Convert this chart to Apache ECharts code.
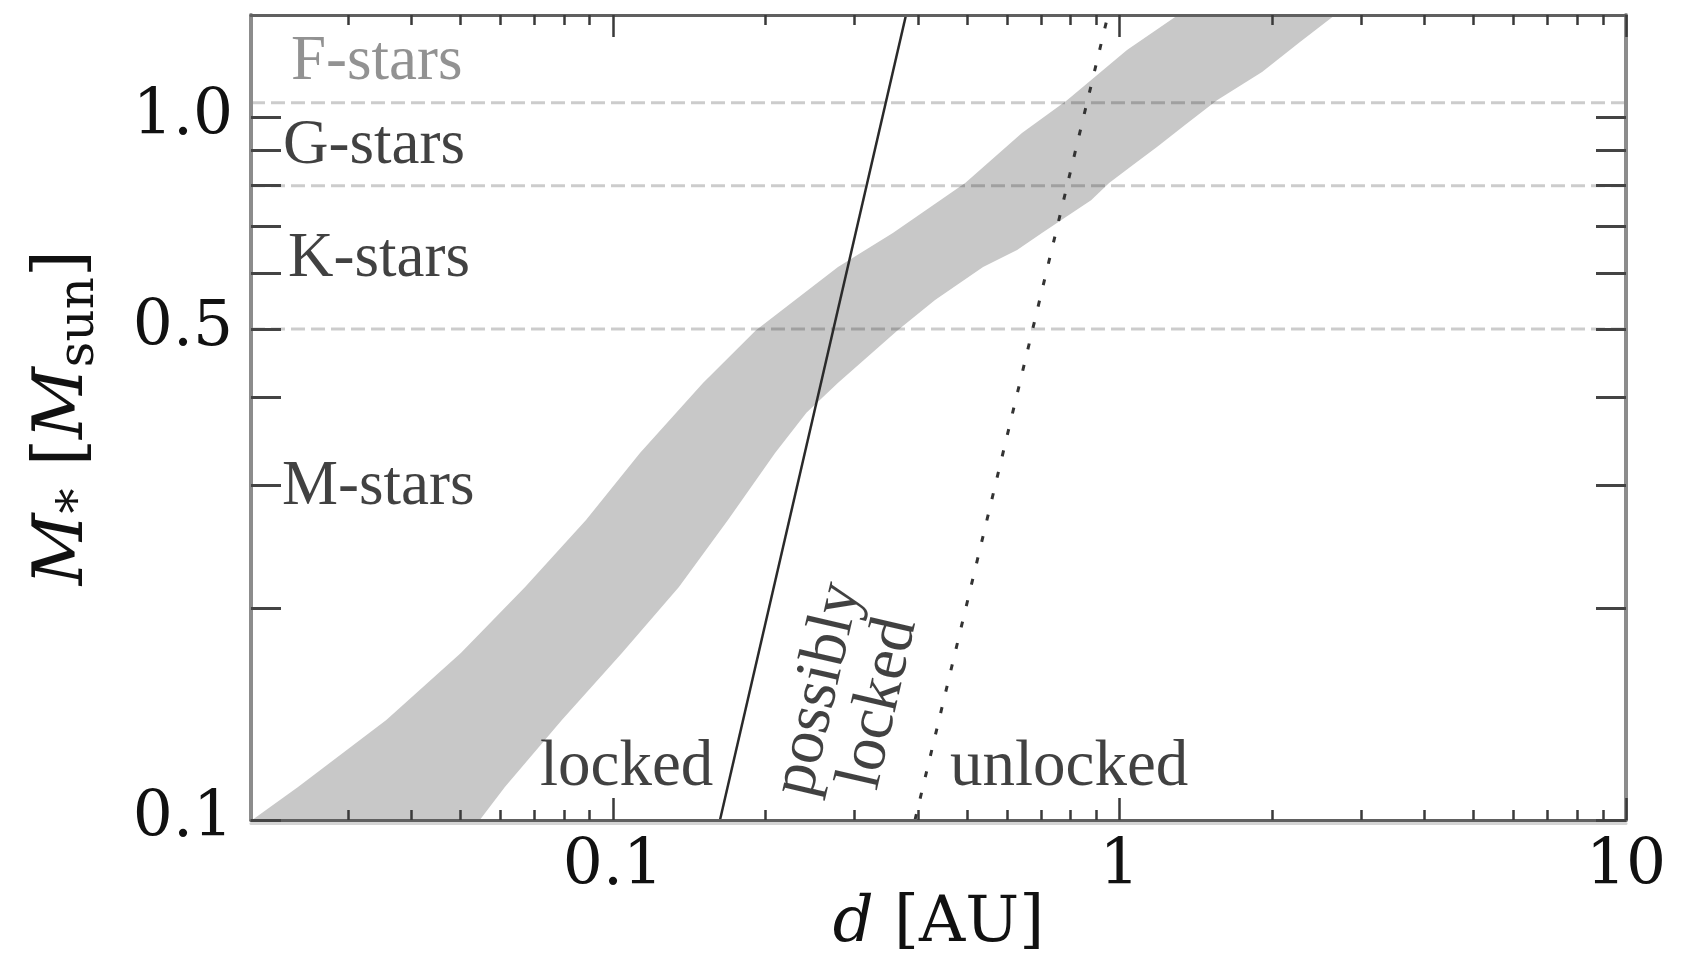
<!DOCTYPE html>
<html>
<head>
<meta charset="utf-8">
<script src="https://cdn.jsdelivr.net/npm/echarts@6/dist/echarts.min.js"></script>
<style>
html,body{margin:0;padding:0;background:#fff;}
#chart{width:1692px;height:959px;}
</style>
</head>
<body>
<div id="chart"></div>
<script>
// ---- axis ranges and ticks ----
const xRange = [0.0193, 10];
const yRange = [0.1, 1.4];
const xMajorTicks = [0.1, 1, 10];
const xTickLabels = ['0.1', '1', '10'];
const xMinorTicks = [0.03, 0.04, 0.05, 0.06, 0.07, 0.08, 0.09,
                     0.2, 0.3, 0.4, 0.5, 0.6, 0.7, 0.8, 0.9,
                     2, 3, 4, 5, 6, 7, 8, 9];
const yTicks = [0.1, 0.2, 0.3, 0.4, 0.5, 0.6, 0.7, 0.8, 0.9, 1.0];
const yLabelValues = [0.1, 0.5, 1.0];
const yTickLabels = ['0.1', '0.5', '1.0'];

// ---- spectral class boundaries (dashed) ----
const classBoundaries = [1.05, 0.8, 0.5];

// ---- grey band: upper-left edge (bottom -> top) ----
const bandEdge1X = [0.0194, 0.0239, 0.0357, 0.0501, 0.0671, 0.0885, 0.1131, 0.1506, 0.1916, 0.2782, 0.357, 0.496, 0.642, 0.788, 1.035, 1.305];
const bandEdge1Y = [0.1, 0.1114, 0.1388, 0.1729, 0.2147, 0.2674, 0.333, 0.4189, 0.498, 0.613, 0.685, 0.807, 0.951, 1.059, 1.248, 1.40];
// ---- grey band: lower-right edge (top -> bottom) ----
const bandEdge2X = [2.664, 2.272, 1.912, 1.558, 1.347, 1.186, 1.063, 0.954, 0.879, 0.784, 0.703, 0.628, 0.538, 0.4325, 0.365, 0.278, 0.241, 0.209, 0.1687, 0.135, 0.1042, 0.0793, 0.0612, 0.0546];
const bandEdge2Y = [1.40, 1.281, 1.161, 1.059, 0.976, 0.908, 0.856, 0.807, 0.763, 0.722, 0.685, 0.648, 0.613, 0.550, 0.498, 0.419, 0.380, 0.333, 0.2674, 0.2147, 0.1729, 0.1388, 0.1114, 0.1];

// ---- locking limits ----
const lockedLineX = [0.1627, 0.379];
const lockedLineY = [0.1, 1.4];
const unlockedLineX = [0.3948, 0.9493];
const unlockedLineY = [0.1, 1.4];

// ---- text labels ----
const starLabels = ['F-stars', 'G-stars', 'K-stars', 'M-stars'];
const starLabelX = [0.02315, 0.02232, 0.02284, 0.02222];
const starLabelY = [1.20, 0.911, 0.629, 0.297];
const regionLabels = ['locked', 'possibly\nlocked', 'unlocked'];
const regionLabelX = [0.0718, 0.2925, 0.463];
const regionLabelY = [0.1186, 0.150, 0.1186];

const SERIF = 'Liberation Serif';
const TICKFONT = 'DejaVu Serif';

function nearestLabel(v, vals, labels) {
  let best = 0, bd = Infinity;
  vals.forEach((t, i) => { const d = Math.abs(Math.log10(v) - Math.log10(t)); if (d < bd) { bd = d; best = i; } });
  return labels[best];
}

const chart = echarts.init(document.getElementById('chart'), null, {renderer: 'canvas'});

function xAxisDef(position, ticks, len, showLabel, showLine) {
  return {
    type: 'log', logBase: 10, position: position, min: xRange[0], max: xRange[1], z: 10,
    axisLine: {show: showLine, onZero: false, lineStyle: {color: '#606060', width: 3}},
    axisTick: {show: ticks.length > 0, inside: true, length: len, customValues: ticks, lineStyle: {color: '#3a3a3a', width: 2.5}},
    axisLabel: showLabel ? {
      show: true, customValues: xMajorTicks, margin: 16, color: '#111', fontFamily: TICKFONT, fontSize: 63,
      formatter: v => nearestLabel(v, xMajorTicks, xTickLabels)
    } : {show: false},
    splitLine: {show: false}, minorTick: {show: false}, minorSplitLine: {show: false}
  };
}

function yAxisDef(position, showLabel) {
  return {
    type: 'log', logBase: 10, position: position, min: yRange[0], max: yRange[1], z: 10,
    axisLine: {show: true, onZero: false, lineStyle: {color: '#8c8c8c', width: 4}},
    axisTick: {show: true, inside: true, length: 30, customValues: yTicks, lineStyle: {color: '#444', width: 3}},
    axisLabel: showLabel ? {
      show: true, customValues: yLabelValues, margin: 18, color: '#111', fontFamily: TICKFONT, fontSize: 63,
      formatter: v => nearestLabel(v, yLabelValues, yTickLabels)
    } : {show: false},
    splitLine: {show: false},
    name: showLabel ? '{i|M}{s|*} [{i|M}{s|sun}]' : '',
    nameLocation: 'middle', nameRotate: 90, nameGap: 146,
    nameTextStyle: {
      fontFamily: TICKFONT, fontSize: 70, color: '#111',
      rich: {
        i: {fontFamily: TICKFONT, fontSize: 70, fontStyle: 'italic', color: '#111'},
        s: {fontFamily: TICKFONT, fontSize: 50, color: '#111', padding: [32, 0, 0, 0]}
      }
    }
  };
}

const xAxes = [
  xAxisDef('bottom', xMajorTicks, 22, true, true),
  xAxisDef('bottom', xMinorTicks, 10, false, false),
  xAxisDef('top', xMajorTicks, 22, false, true),
  xAxisDef('top', xMinorTicks, 10, false, false)
];
// light halo under the bottom frame line
const halo = xAxisDef('bottom', [], 0, false, true);
halo.offset = 3;
halo.z = 9;
halo.axisLine.lineStyle = {color: '#d4d4d4', width: 3};
xAxes.push(halo);

xAxes[0].name = '{i|d} [AU]';
xAxes[0].nameLocation = 'middle';
xAxes[0].nameGap = 72;
xAxes[0].nameMoveOverlap = false;
xAxes[0].nameTextStyle = {
  fontFamily: TICKFONT, fontSize: 64, color: '#111',
  rich: {i: {fontFamily: TICKFONT, fontSize: 64, fontStyle: 'italic', color: '#111'}}
};

const series = [];

// grey band polygon
series.push({
  type: 'custom', xAxisIndex: 0, yAxisIndex: 0, clip: true, silent: true, z: 1,
  data: [[bandEdge1X[0], bandEdge1Y[0]]],
  renderItem: function (params, api) {
    const pts = [];
    for (let i = 0; i < bandEdge1X.length; i++) pts.push(api.coord([bandEdge1X[i], bandEdge1Y[i]]));
    for (let i = 0; i < bandEdge2X.length; i++) pts.push(api.coord([bandEdge2X[i], bandEdge2Y[i]]));
    return {type: 'polygon', shape: {points: pts}, style: {fill: '#c8c8c8', stroke: null}};
  }
});

// dashed class boundaries
classBoundaries.forEach(b => {
  series.push({
    type: 'line', xAxisIndex: 0, yAxisIndex: 0, symbol: 'none', silent: true, z: 3,
    data: [[xRange[0], b], [xRange[1], b]],
    lineStyle: {color: 'rgba(0,0,0,0.2)', width: 3, type: [14, 6]}
  });
});

// locked limit (solid)
series.push({
  type: 'line', xAxisIndex: 0, yAxisIndex: 0, symbol: 'none', silent: true, z: 4,
  data: lockedLineX.map((x, i) => [x, lockedLineY[i]]),
  lineStyle: {color: '#2a2a2a', width: 2.5, type: 'solid'}
});
// unlocked limit (dotted)
series.push({
  type: 'line', xAxisIndex: 0, yAxisIndex: 0, symbol: 'none', silent: true, z: 4,
  data: unlockedLineX.map((x, i) => [x, unlockedLineY[i]]),
  lineStyle: {color: '#333', width: 3, type: [6, 16]}
});

// star class labels
series.push({
  type: 'scatter', xAxisIndex: 0, yAxisIndex: 0, symbolSize: 0, silent: true, z: 5,
  data: starLabels.map((n, i) => {
    const d = {name: n, value: [starLabelX[i], starLabelY[i]]};
    if (i === 0) d.label = {color: '#777'};
    return d;
  }),
  label: {
    show: true, position: 'right', distance: 0, formatter: '{b}',
    fontFamily: SERIF, fontSize: 63, color: '#111'
  }
});

// region labels
series.push({
  type: 'scatter', xAxisIndex: 0, yAxisIndex: 0, symbolSize: 0, silent: true, z: 5,
  data: regionLabels.map((n, i) => {
    const d = {name: n, value: [regionLabelX[i], regionLabelY[i]]};
    if (i === 1) d.label = {position: 'inside', rotate: 77, align: 'center', lineHeight: 62};
    return d;
  }),
  label: {
    show: true, position: 'right', distance: 0, formatter: '{b}',
    fontFamily: SERIF, fontSize: 65, color: '#111'
  }
});

chart.setOption({
  animation: false,
  backgroundColor: '#fff',
  grid: {left: 251, right: 66, top: 15, bottom: 139, containLabel: false, outerBoundsMode: 'none'},
  xAxis: xAxes,
  yAxis: [yAxisDef('left', true), yAxisDef('right', false)],
  series: series
});
</script>
</body>
</html>
